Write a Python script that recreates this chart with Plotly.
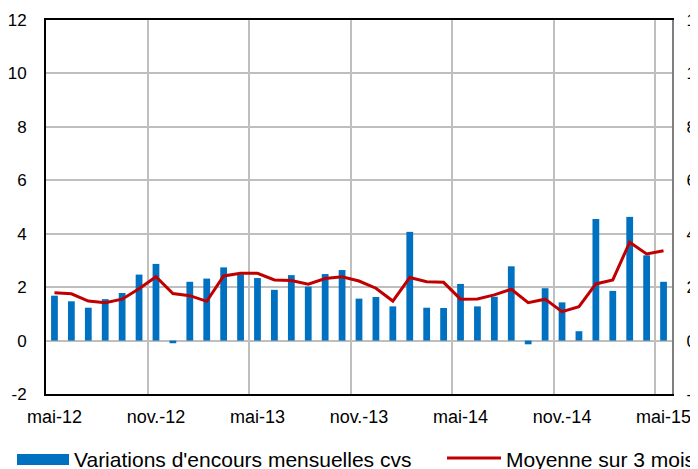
import plotly.graph_objects as go

months = ["mai-12","juin-12","juil.-12","août-12","sept.-12","oct.-12","nov.-12","déc.-12",
          "janv.-13","févr.-13","mars-13","avr.-13","mai-13","juin-13","juil.-13","août-13",
          "sept.-13","oct.-13","nov.-13","déc.-13","janv.-14","févr.-14","mars-14","avr.-14",
          "mai-14","juin-14","juil.-14","août-14","sept.-14","oct.-14","nov.-14","déc.-14",
          "janv.-15","févr.-15","mars-15","avr.-15","mai-15"]

variations = [1.68, 1.47, 1.23, 1.55, 1.78, 2.47, 2.87, -0.10, 2.20, 2.32,
              2.74, 2.48, 2.34, 1.90, 2.45, 2.02, 2.49, 2.64, 1.57, 1.63,
              1.28, 4.07, 1.23, 1.22, 2.12, 1.28, 1.64, 2.78, -0.14, 1.96,
              1.43, 0.35, 4.55, 1.86, 4.63, 3.19, 2.20]

moyenne = [1.79, 1.75, 1.48, 1.42, 1.55, 1.94, 2.39, 1.76, 1.68, 1.47,
           2.42, 2.52, 2.52, 2.27, 2.25, 2.11, 2.32, 2.39, 2.23, 1.96,
           1.48, 2.36, 2.20, 2.18, 1.55, 1.56, 1.71, 1.92, 1.42, 1.55,
           1.08, 1.27, 2.12, 2.27, 3.68, 3.24, 3.36]

tick_idx = [0, 6, 12, 18, 24, 30, 36]
tick_text = ["mai-12", "nov.-12", "mai-13", "nov.-13", "mai-14", "nov.-14", "mai-15"]
y_ticks = [-2, 0, 2, 4, 6, 8, 10, 12]
y_tick_text = ["-2", "0", "2", "4", "6", "8", "10", "12"]

x = list(range(len(months)))
FONT = "Liberation Sans, Arial, sans-serif"
GRID = "#BFBFBF"

fig = go.Figure()
fig.add_trace(go.Bar(x=x, y=variations, name="Variations d'encours mensuelles cvs",
                     marker=dict(color="#0070C0", line=dict(width=0)),
                     width=0.4, showlegend=False, customdata=months))
fig.add_trace(go.Scatter(x=x, y=moyenne, mode="lines", name="Moyenne sur 3 mois",
                         line=dict(color="#C00000", width=3), showlegend=False))
# invisible trace to drive the right-hand axis
fig.add_trace(go.Scatter(x=[x[0]], y=[None], yaxis="y2", showlegend=False, hoverinfo="skip"))

minor_vals = [t + 5.5 for t in tick_idx[:-1]]

# page body has an 8px default margin: compensate so the plot area sits at 46..672 x 20..394
fig.update_layout(
    width=698, height=469,
    margin=dict(l=38, r=34, t=12, b=83, autoexpand=False),
    paper_bgcolor="white", plot_bgcolor="white",
    font=dict(family=FONT, size=17, color="#000000"),
    xaxis=dict(range=[-0.5, 36.5], tickmode="array", tickvals=tick_idx, ticktext=tick_text,
               tickfont=dict(size=18),
               showgrid=False, zeroline=False, showline=True, linecolor="#000000",
               linewidth=2, mirror=True, ticks="", ticklabelstandoff=5, automargin=False,
               minor=dict(tickmode="array", tickvals=minor_vals, showgrid=True,
                          gridcolor=GRID, gridwidth=1.5, ticks="")),
    yaxis=dict(range=[-2, 12], tickmode="array", tickvals=y_ticks, ticktext=y_tick_text,
               showgrid=True, gridcolor=GRID, gridwidth=1.5, zeroline=True,
               zerolinecolor=GRID, zerolinewidth=1.5, showline=True, linecolor="#000000",
               linewidth=2, ticks="", ticklabelstandoff=14, automargin=False),
    yaxis2=dict(range=[-2, 12], tickmode="array", tickvals=y_ticks, ticktext=y_tick_text,
                overlaying="y", side="right", showgrid=False, zeroline=False,
                showline=True, linecolor="#7F7F7F", linewidth=2, ticks="",
                ticklabelstandoff=9, automargin=False),
    bargap=0.6,
)

# legend drawn manually (page pixels -> paper coords: x0=46, w=626; y0=394, h=374)
def px(xp):
    return (xp - 46) / 626

def py(yp):
    return (394 - yp) / 374

fig.add_shape(type="rect", xref="paper", yref="paper", x0=px(17), x1=px(69),
              y0=py(465), y1=py(454), fillcolor="#0070C0", line=dict(width=0))
fig.add_annotation(xref="paper", yref="paper", x=px(72), y=py(459),
                   text="Variations d'encours mensuelles cvs", showarrow=False,
                   xanchor="left", yanchor="middle", font=dict(size=21, family=FONT))
fig.add_shape(type="line", xref="paper", yref="paper", x0=px(447), x1=px(501),
              y0=py(458), y1=py(458), line=dict(color="#C00000", width=3))
fig.add_annotation(xref="paper", yref="paper", x=px(504), y=py(459),
                   text="Moyenne sur 3 mois", showarrow=False,
                   xanchor="left", yanchor="middle", font=dict(size=21, family=FONT))

fig.write_html("out.html")
